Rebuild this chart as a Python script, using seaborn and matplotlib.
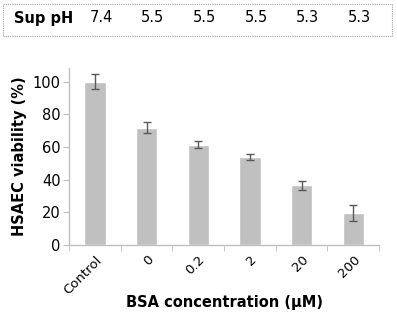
import matplotlib
matplotlib.use("Agg")
import matplotlib.pyplot as plt
import matplotlib.transforms as mtransforms
from matplotlib.patches import Rectangle
import seaborn as sns
import pandas as pd
import numpy as np

# data
categories = ["Control", "0", "0.2", "2", "20", "200"]
viability = [100, 72, 61.5, 54, 36.5, 19.5]
errors = [4.5, 3.3, 2.0, 2.0, 3.0, 5.0]
sup_ph = ["7.4", "5.5", "5.5", "5.5", "5.3", "5.3"]

df = pd.DataFrame({"conc": categories, "viability": viability})

sns.set_style("white")
plt.rcParams["font.family"] = ["DejaVu Sans"]
plt.rcParams["text.color"] = "black"
plt.rcParams["axes.labelcolor"] = "black"
plt.rcParams["xtick.labelcolor"] = "black"
plt.rcParams["ytick.labelcolor"] = "black"

fig = plt.figure(figsize=(3.97, 3.13), dpi=100)
ax = fig.add_axes([0.174, 0.217, 0.781, 0.566])

sns.barplot(data=df, x="conc", y="viability", color="#c0c0c0", width=0.41,
            saturation=1, ax=ax, errorbar=None)
ax.errorbar(np.arange(len(categories)), viability, yerr=errors, fmt="none",
            ecolor="#595959", elinewidth=1, capsize=3, capthick=1)

ax.set_ylim(0, 108.5)
ax.set_xlim(-0.5, len(categories) - 0.5)
ax.set_yticks([0, 20, 40, 60, 80, 100])
ax.set_ylabel("HSAEC viability (%)", fontsize=10.5, fontweight="bold", labelpad=4)
ax.set_xlabel("BSA concentration (μM)", fontsize=10.5, fontweight="bold")
ax.xaxis.set_label_coords(0.5, -0.28)

for side in ["top", "right"]:
    ax.spines[side].set_visible(False)
for side in ["left", "bottom"]:
    ax.spines[side].set_color("#bfbfbf")
    ax.spines[side].set_linewidth(1)

ax.tick_params(axis="y", labelsize=10.5, length=4, color="#bfbfbf", direction="out",
               left=True, pad=2, labelcolor="black")
ax.set_xticks(np.arange(len(categories)))
ax.set_xticklabels(categories, rotation=45, ha="right", rotation_mode="anchor",
                   fontsize=9.5)
ax.tick_params(axis="x", which="major", length=0, pad=6, labelcolor="black")
ax.set_xticks(np.arange(-0.5, len(categories)), minor=True)
ax.tick_params(axis="x", which="minor", length=4, color="#bfbfbf", direction="out",
               bottom=True)

# Sup pH box at top
fig.patches.append(Rectangle((3 / 397, 1 - 36 / 313), 389 / 397, 32 / 313,
                             transform=fig.transFigure, fill=False,
                             edgecolor="#a0a0a0", linestyle=(0, (1, 1)),
                             linewidth=0.8))
fig.text(14 / 397, 1 - 18 / 313, "Sup pH", fontsize=10.5, fontweight="bold",
         va="center", ha="left", color="black")
trans = mtransforms.blended_transform_factory(ax.transData, fig.transFigure)
for i, ph in enumerate(sup_ph):
    ax.text(i + 0.12, 1 - 18 / 313, ph, transform=trans, fontsize=10.5,
            va="center", ha="center", color="black")

fig.savefig("out.png", dpi=100)
